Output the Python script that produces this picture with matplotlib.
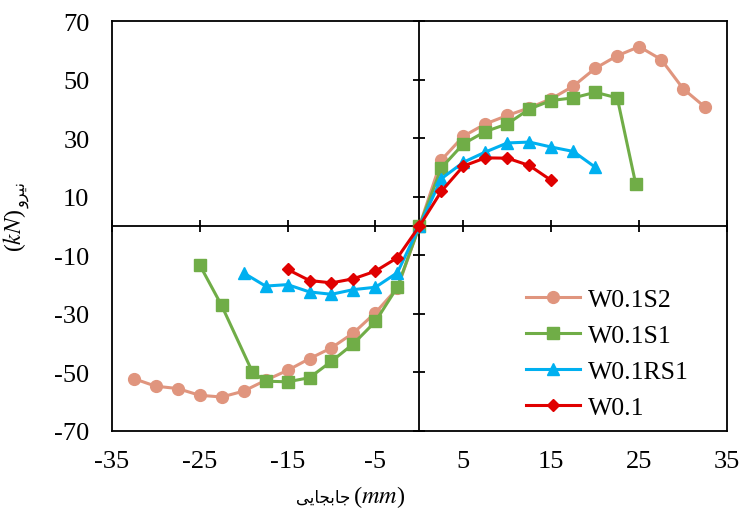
#!/usr/bin/env python3
"""
Force-displacement curves of four wall specimens (W0.1, W0.1RS1, W0.1S1, W0.1S2).
Values read off the reference picture.
"""

import matplotlib
matplotlib.use('Agg')
import matplotlib.pyplot as plt

# displacement (mm) / force (kN) per specimen
x_s2 = [-32.5, -30, -27.5, -25, -22.5, -20, -17.5, -15, -12.5, -10, -7.5, -5, -2.5,
        0, 2.5, 5, 7.5, 10, 12.5, 15, 17.5, 20, 22.5, 25, 27.5, 30, 32.5]
y_s2 = [-52.1, -54.7, -55.5, -57.8, -58.4, -56.4, -52.7, -49.3, -45.3, -41.6, -36.5, -29.6, -21.2,
        0, 22.6, 30.7, 34.9, 37.8, 40.4, 43.5, 47.8, 53.9, 58.2, 61.3, 56.9, 46.9, 40.6]

x_s1 = [-25, -22.5, -19, -17.5, -15, -12.5, -10, -7.5, -5, -2.5,
        0, 2.5, 5, 7.5, 10, 12.5, 15, 17.5, 20, 22.5, 24.6]
y_s1 = [-13.2, -27.1, -49.8, -53.0, -53.2, -51.8, -46.2, -40.2, -32.6, -20.8,
        0, 19.9, 28.1, 32.3, 34.9, 40.0, 42.9, 43.8, 45.7, 43.8, 14.4]

x_rs1 = [-20, -17.5, -15, -12.5, -10, -7.5, -5, -2.5,
         0, 2.5, 5, 7.5, 10, 12.5, 15, 17.5, 20]
y_rs1 = [-16.0, -20.5, -20.0, -22.5, -23.3, -21.7, -20.9, -15.9,
         0, 16.2, 21.8, 25.3, 28.4, 28.7, 27.0, 25.5, 20.1]

x_w = [-15, -12.5, -10, -7.5, -5, -2.5, 0, 2.5, 5, 7.5, 10, 12.5, 15]
y_w = [-14.8, -18.6, -19.4, -18.0, -15.4, -10.8, 0, 11.9, 20.5, 23.3, 23.2, 20.7, 15.6]

labels = ["W0.1S2", "W0.1S1", "W0.1RS1", "W0.1"]
xticks = [-35, -25, -15, -5, 5, 15, 25, 35]
yticks = [-70, -50, -30, -10, 10, 30, 50, 70]

# Persian words, written with Arabic presentation forms in visual order
# (matplotlib does no shaping/bidi on its own)
X_WORD = "\uFBFD\uFBFE\uFE8E\uFEA0\uFE91\uFE8E\uFE9F"   # جابجایی
Y_WORD = "\uFEED\uFEAE\uFBFF\uFEE7"                      # نیرو

plt.rcParams['font.family'] = ['Liberation Serif', 'DejaVu Sans']
plt.rcParams['mathtext.fontset'] = 'stix'
plt.rcParams['axes.unicode_minus'] = False

fig = plt.figure(figsize=(7.42, 5.10), dpi=100)
pos = [0.1505, 0.153, 0.8295, 0.8035]
W, H = 742.0, 510.0

# base axes: frame, grid, tick labels
ax = fig.add_axes(pos, zorder=0)
ax.set_xlim(-35, 35)
ax.set_ylim(-70, 70)
ax.set_xticks(xticks)
ax.set_yticks(yticks)
ax.set_xticks([-25, -15, -5, 5, 15, 25], minor=True)
ax.set_yticks([-50, -30, -10, 10, 30, 50], minor=True)
ax.tick_params(which='both', length=0, labelsize=19)
ax.tick_params(axis='x', pad=14)
ax.tick_params(axis='y', pad=16)
ax.grid(which='minor', color='#A6A6A6', linestyle=(0, (5, 3.5)), linewidth=1.2)
for sp in ax.spines.values():
    sp.set_linewidth(1.3)

# axis titles: Persian word + italic unit, drawn as two pieces each
fig.text(350 / W, 1 - 503 / H, X_WORD, family='DejaVu Sans', fontsize=12,
         ha='right', va='baseline')
fig.text(353 / W, 1 - 503 / H, "($mm$)", fontsize=17.5, ha='left', va='baseline')
fig.text(15 / W, 1 - 231 / H, "($kN$)", fontsize=17, rotation=90,
         ha='center', va='center')
fig.text(22 / W, 1 - 208 / H, Y_WORD, family='DejaVu Sans', fontsize=11.5,
         rotation=90, ha='center', va='bottom')

# overlay axes: the zero axes with their tick marks, plus the data
az = fig.add_axes(pos, zorder=1, sharex=ax, sharey=ax)
az.patch.set_visible(False)
az.spines['left'].set_position(('data', 0))
az.spines['bottom'].set_position(('data', 0))
az.spines['top'].set_visible(False)
az.spines['right'].set_visible(False)
az.spines['left'].set_linewidth(1.3)
az.spines['bottom'].set_linewidth(1.3)
az.tick_params(direction='inout', length=9, width=1.3,
               labelleft=False, labelbottom=False)

az.plot(x_s2, y_s2, color='#E0957E', marker='o', markersize=8.5, lw=2.2,
        label=labels[0], zorder=3)
az.plot(x_s1, y_s1, color='#70AD47', marker='s', markersize=8, lw=2.2,
        label=labels[1], zorder=3)
az.plot(x_rs1, y_rs1, color='#00B0F0', marker='^', markersize=8.5, lw=2.2,
        label=labels[2], zorder=3)
az.plot(x_w, y_w, color='#E00000', marker='D', markersize=6.5, lw=2.2,
        label=labels[3], zorder=3)

leg = az.legend(loc='lower right', bbox_to_anchor=(0.975, -0.027), fontsize=18.5,
                frameon=True, edgecolor='none', framealpha=1, fancybox=False,
                handlelength=2.1, handletextpad=0.3, labelspacing=0.5,
                borderpad=0.4)

fig.savefig("out.png", dpi=100)
plt.close(fig)
